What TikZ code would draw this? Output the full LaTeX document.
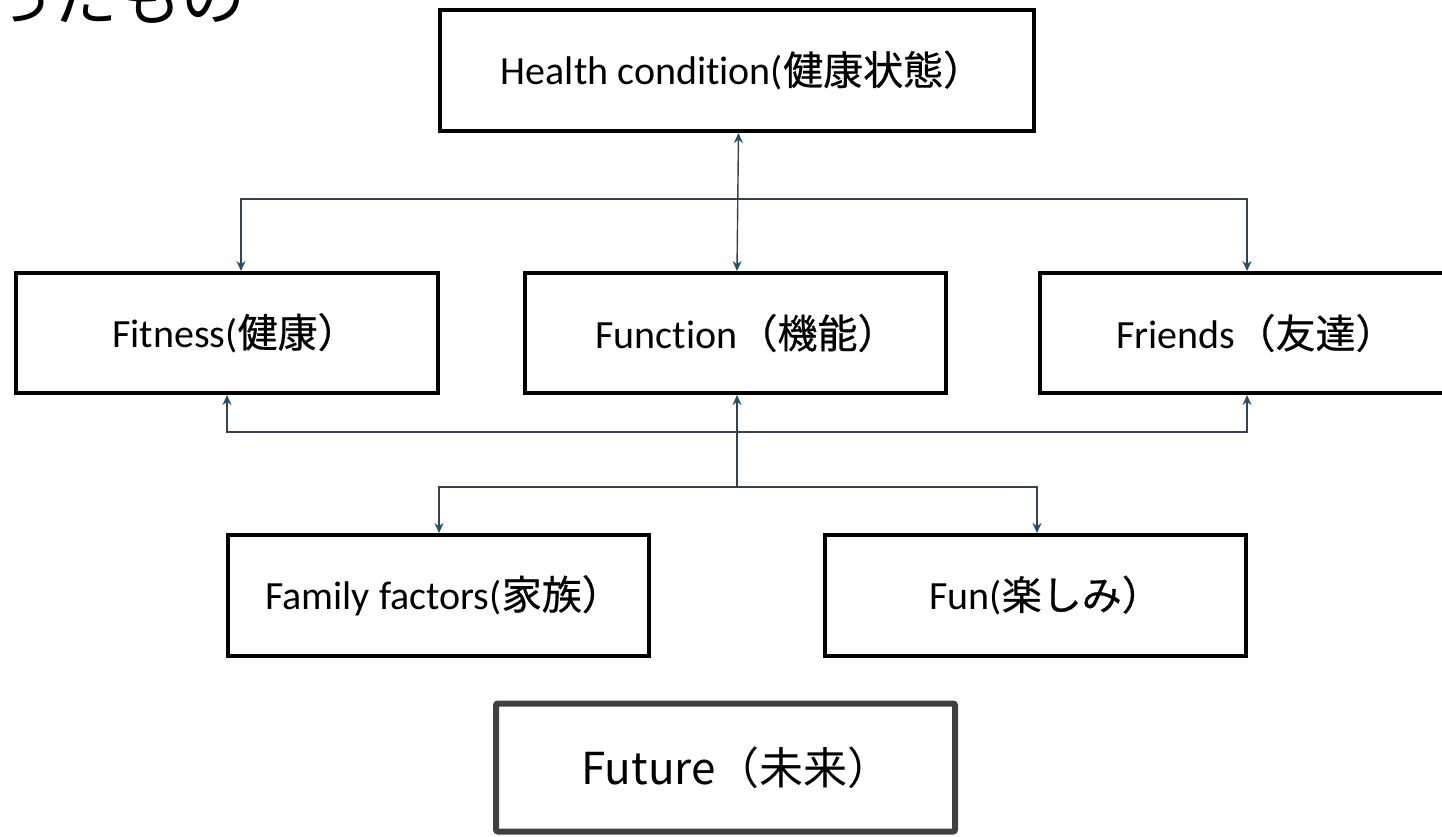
\documentclass[tikz,border=0pt]{standalone}
\usepackage{fontspec}
\setmainfont{Carlito}[Ligatures={NoCommon}]
\newfontfamily\jp{Noto Sans CJK JP}
\newfontfamily\jpb{Noto Sans CJK JP}[FakeBold=0.5]
\usetikzlibrary{arrows.meta}
\definecolor{lineC}{HTML}{34434F}
\definecolor{tipC}{HTML}{24506E}
\definecolor{futC}{HTML}{404040}
\tikzset{
  box/.style={draw=black, line width=4pt, fill=white, inner sep=0pt,
    font=\fontsize{40}{46}\selectfont, text=black},
  wire/.style={draw=lineC, line width=1.4pt},
  tipE/.style={-{Stealth[length=10pt,width=9pt,color=tipC]}},
  tipS/.style={{Stealth[length=10pt,width=9pt,color=tipC]}-},
  tipB/.style={{Stealth[length=10pt,width=9pt,color=tipC]}-{Stealth[length=10pt,width=9pt,color=tipC]}}
}
\begin{document}
\begin{tikzpicture}[x=1pt,y=-1pt]
\useasboundingbox (0,0) rectangle (1442,836);
\clip (0,0) rectangle (1442,836);
\fill[white] (0,0) rectangle (1442,836);

% cut-off heading
\node[anchor=south east, inner sep=0pt, font=\jp\fontsize{64}{70}\selectfont] (head) at (246,24) {ったもの};

% boxes
\node[box, minimum width=594pt, minimum height=121pt] (health) at (737,70.5) {\hspace*{10pt}Health condition({\jpb 健康状態）}};
\node[box, minimum width=422pt, minimum height=120pt] (fitness) at (227,333) {\hspace*{16pt}Fitness({\jpb 健康）}};
\node[box, minimum width=421pt, minimum height=120pt] (function) at (735.5,333) {\hspace*{22pt}Function{\jpb （機能）}};
\node[box, minimum width=420pt, minimum height=120pt] (friends) at (1250,333) {\hspace*{12pt}Friends{\jpb （友達）}};
\node[box, minimum width=421pt, minimum height=121pt] (family) at (438.5,595.5) {\hspace*{10pt}Family factors({\jpb 家族）}};
\node[box, minimum width=421pt, minimum height=121pt] (fun) at (1035.5,595.5) {\hspace*{20pt}Fun({\jpb 楽しみ）}};
\node[draw=futC, line width=6pt, rounded corners=2pt, fill=white, inner sep=0pt,
  minimum width=459pt, minimum height=128pt, font=\jp\fontsize{44}{50}\selectfont] (future) at (725.5,767.5) {\hspace*{22pt}Future（未来）};

% coordinates for buses
\coordinate (ub) at (737,199);
\coordinate (lb) at (737,432);
\coordinate (bb) at (737,487);

% health <-> function
\draw[wire, tipB] ([xshift=1.5pt]health.south) -- ([xshift=1.5pt]function.north);
% upper bus to fitness and friends
\draw[wire, tipE] (ub) -| ([xshift=14pt]fitness.north);
\draw[wire, tipE] (ub) -| ([xshift=-3pt]friends.north);
% lower bus up to fitness and friends
\draw[wire, tipE] (lb) -| (fitness.south);
\draw[wire, tipE] (lb) -| ([xshift=-3pt]friends.south);
% function bottom down to branch
\draw[wire, tipS] ([xshift=1.5pt]function.south) -- (bb);
\draw[wire, tipE] (bb) -| ([xshift=0.5pt]family.north);
\draw[wire, tipE] (bb) -| ([xshift=1.5pt]fun.north);
\end{tikzpicture}
\end{document}
